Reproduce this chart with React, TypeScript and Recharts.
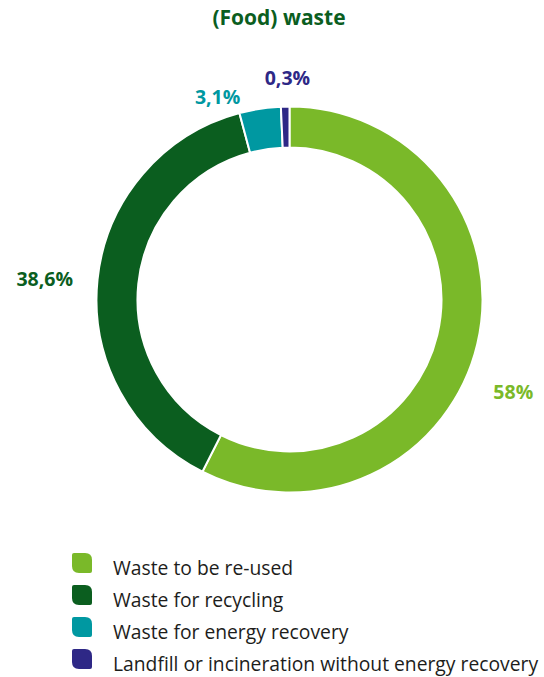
import { PieChart, Pie, Cell } from 'recharts'

if (typeof document !== 'undefined') document.body.style.margin = '0'

const categories = [
  'Waste to be re-used',
  'Waste for recycling',
  'Waste for energy recovery',
  'Landfill or incineration without energy recovery',
]
const shares = [58, 38.6, 3.1, 0.3]
const shareLabels = ['58%', '38,6%', '3,1%', '0,3%']
const colours = ['#7ab929', '#0b5e1f', '#0098a1', '#2e2886']

const data = categories.map((name, i) => ({ name, value: shares[i], label: shareLabels[i] }))

// décalages manuels des étiquettes (placement de la maquette)
const labelNudge = [
  { dx: 2, dy: 39 },
  { dx: -18, dy: 2 },
  { dx: -37, dy: 22 },
  { dx: 3, dy: 6 },
]

const FONT = '"Open Sans", sans-serif'
const RAD = Math.PI / 180

const renderLabel = (props: any) => {
  const { cx, cy, midAngle, outerRadius, index } = props
  const r = outerRadius + 35
  const x = cx + r * Math.cos(-midAngle * RAD) + labelNudge[index].dx
  const y = cy + r * Math.sin(-midAngle * RAD) + labelNudge[index].dy
  return (
    <text
      key={index}
      x={x}
      y={y}
      textAnchor="middle"
      dominantBaseline="central"
      fill={colours[index]}
      style={{ fontFamily: FONT, fontSize: 19.5, fontWeight: 700 }}
    >
      {data[index].label}
    </text>
  )
}

const leafPath = (s: number) => {
  const big = 7
  const small = 2
  return `M${small},0 H${s - big} Q${s},0 ${s},${big} V${s - small} Q${s},${s} ${s - small},${s} H${big} Q0,${s} 0,${s - big} V${small} Q0,0 ${small},0 Z`
}

export default function App() {
  return (
    <div style={{ position: 'relative', width: 544, height: 677 }}>
      <div
        style={{
          position: 'absolute',
          top: 3,
          width: 544,
          left: 7,
          textAlign: 'center',
          fontFamily: FONT,
          fontSize: 21,
          fontWeight: 700,
          color: '#0b5e1f',
        }}
      >
        (Food) waste
      </div>
      <PieChart width={544} height={540} margin={{ top: 0, right: 0, bottom: 0, left: 0 }}>
        <Pie
          data={data}
          dataKey="value"
          nameKey="name"
          cx={289.5}
          cy={299.5}
          innerRadius={152}
          outerRadius={193}
          startAngle={90}
          endAngle={-270}
          minAngle={1.5}
          stroke="#ffffff"
          strokeWidth={2}
          label={renderLabel}
          labelLine={false}
          isAnimationActive={false}
        >
          {data.map((d, i) => (
            <Cell key={d.name} fill={colours[i]} />
          ))}
        </Pie>
      </PieChart>
      <div style={{ position: 'absolute', left: 72, top: 547 }}>
        {data.map((d, i) => (
          <div key={d.name} style={{ display: 'flex', alignItems: 'center', height: 32 }}>
            <svg width={20} height={20} style={{ marginRight: 21 }}>
              <path d={leafPath(20)} fill={colours[i]} />
            </svg>
            <span style={{ fontFamily: FONT, fontSize: 19.3, color: '#1d1d1b', position: 'relative', top: 4 }}>
              {d.name}
            </span>
          </div>
        ))}
      </div>
    </div>
  )
}
